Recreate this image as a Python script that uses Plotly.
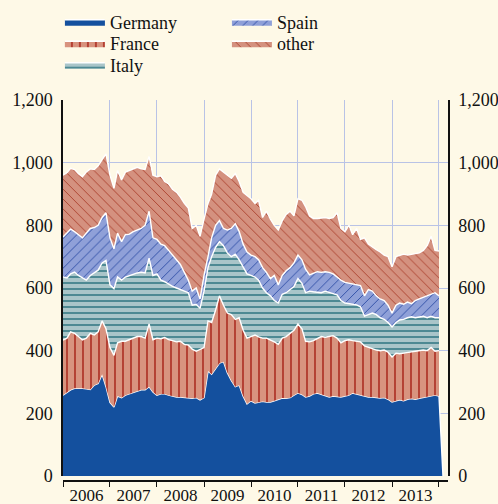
import numpy as np
import pandas as pd
import plotly.graph_objects as go

# ---- data (monthly, Jan 2006 - Jan 2014) ----
months = list(pd.date_range("2006-01-01", periods=98, freq="MS"))

germany = [258,268,275,280,281,280,278,276,290,295,325,285,235,220,255,250,258,
           262,265,270,275,275,285,268,258,262,262,258,255,252,252,250,250,
           248,250,243,250,335,325,345,360,365,330,305,285,290,255,230,240,
           233,236,238,236,236,240,245,249,248,250,258,265,260,252,255,262,265,
           260,256,252,255,253,252,255,258,265,262,258,255,252,252,250,249,250,
           245,236,240,243,240,245,247,245,248,250,252,255,258,255,
           0]

france = [176,172,185,175,164,154,162,179,160,165,170,185,175,165,170,180,172,
          173,175,175,170,165,200,167,182,176,180,177,177,176,178,170,168,
          157,148,162,160,160,165,185,215,180,190,210,215,215,210,210,205,
          217,208,202,204,199,188,175,191,197,205,207,220,210,178,173,170,175,
          185,187,193,193,187,173,177,177,167,168,170,160,158,153,152,151,152,
          150,144,152,147,152,150,149,153,152,152,148,155,140,145]

italy = [201,192,185,196,195,198,185,185,200,197,185,218,200,213,210,195,205,
         205,205,203,205,208,210,205,205,187,178,177,173,172,165,168,167,
         140,150,130,180,170,210,200,173,190,192,185,208,185,200,205,195,
         185,181,160,145,140,132,132,140,140,140,140,145,145,155,162,156,147,
         140,147,140,134,138,135,120,115,118,116,112,95,105,115,113,105,98,
         95,96,98,108,108,110,112,107,108,108,105,100,107,105]

spain = [128,143,143,129,130,128,150,150,143,143,145,152,150,127,140,123,135,
         132,135,137,140,152,150,120,110,115,115,108,100,90,80,62,40,
         45,52,30,50,35,60,70,67,55,73,90,97,90,75,70,65,
         65,65,65,65,55,80,58,60,70,70,75,75,75,75,52,60,65,
         65,62,65,63,57,65,66,65,62,64,68,65,80,70,60,60,60,
         55,44,55,54,48,50,42,55,57,60,70,70,80,70]

other = [197,193,194,198,195,195,195,190,185,190,185,188,200,193,200,197,200,
         203,202,200,190,178,175,200,200,218,205,212,210,215,215,220,230,
         200,200,200,180,170,140,160,165,180,173,160,160,160,165,180,180,
         170,190,160,195,190,160,175,175,180,180,150,180,190,200,188,174,170,
         173,173,172,180,205,165,162,185,158,180,147,185,145,140,147,150,145,
         155,148,155,153,160,150,158,150,147,150,160,185,135,143]

series_names = ["Germany", "France", "Italy", "Spain", "other"]
y_ticks = [0, 200, 400, 600, 800, 1000, 1200]

# ---- styles ----
BG = "#FEF9E7"
GRID = "#B9C3E6"
FONT = "Liberation Serif"

n = len(france)
x_main = months[:n]
base = np.array(germany[:n], dtype=float)
cum_fr = base + np.array(france)
cum_it = cum_fr + np.array(italy)
cum_sp = cum_it + np.array(spain)
cum_ot = cum_sp + np.array(other)

fig = go.Figure()
line_w = dict(color="white", width=1.4)

# legend rows: row 1 -> Germany, Spain ; row 2 -> France, other ; row 3 -> Italy
fig.add_trace(go.Scatter(
    x=months, y=germany, name=series_names[0], mode="lines",
    line=line_w, fill="tozeroy", fillcolor="#14509E", legend="legend",
    legendrank=1, hoverinfo="skip"))

fig.add_trace(go.Scatter(
    x=x_main, y=base, mode="lines", line=dict(width=0, color="rgba(0,0,0,0)"),
    showlegend=False, hoverinfo="skip"))

pattern_specs = [
    (series_names[1], cum_fr, dict(shape="|", bgcolor="#D8937F", fgcolor="#B0362A", size=8, solidity=0.22), "legend2", 1),
    (series_names[2], cum_it, dict(shape="-", bgcolor="#A9C5C9", fgcolor="#4D8993", size=6, solidity=0.33), "legend3", 1),
    (series_names[3], cum_sp, dict(shape="/", bgcolor="#8FA0D8", fgcolor="#3352A8", size=7, solidity=0.14), "legend", 2),
    (series_names[4], cum_ot, dict(shape="\\", bgcolor="#D4917F", fgcolor="#AE4634", size=7, solidity=0.14), "legend2", 2),
]
for name, yv, pat, leg, rank in pattern_specs:
    fig.add_trace(go.Scatter(
        x=x_main, y=yv, name=name, mode="lines", line=line_w,
        fill="tonexty", fillcolor=pat["bgcolor"],
        fillpattern=dict(fillmode="replace", **pat),
        legend=leg, legendrank=rank, hoverinfo="skip"))

# invisible trace to activate the right-hand axis
fig.add_trace(go.Scatter(x=[months[0]], y=[0], yaxis="y2", mode="lines",
                         line=dict(width=0), showlegend=False, hoverinfo="skip"))

H = 504
top, bot = 100, 23
paper_h = H - top - bot
dom0 = 5 / paper_h

axis_font = dict(family=FONT, size=18, color="#111111")
x_font = dict(family=FONT, size=17, color="#111111")

def legend_row(row_center_y):
    return dict(orientation="h", x=-0.008, xanchor="left",
                y=1 + (top - row_center_y) / paper_h, yanchor="middle",
                entrywidth=112, entrywidthmode="pixels", traceorder="normal",
                itemwidth=40,
                font=dict(family=FONT, size=18, color="#111111"),
                bgcolor="rgba(0,0,0,0)", itemclick=False, itemdoubleclick=False)

fig.update_layout(
    width=498, height=504,
    margin=dict(l=63, r=50, t=top, b=bot, autoexpand=False),
    paper_bgcolor=BG, plot_bgcolor=BG,
    font=axis_font,
    showlegend=True,
    legend=legend_row(22),
    legend2=legend_row(43.5),
    legend3=legend_row(65),
    xaxis=dict(type="date", range=["2006-01-01", "2014-03-12"],
               tick0="2006-01-01", dtick="M12", tickformat="%Y",
               ticklabelmode="period", showgrid=True, gridcolor=GRID, gridwidth=1,
               ticks="outside", ticklen=5, tickcolor="#111111", tickwidth=1.2,
               ticklabelstandoff=-6,
               showline=True, linecolor="#111111", linewidth=1.5,
               anchor="free", position=0, zeroline=False, automargin=False,
               tickfont=x_font),
    yaxis=dict(range=[0, 1200], tickvals=y_ticks, tickformat=",d",
               domain=[dom0, 1], showgrid=True, gridcolor=GRID, gridwidth=1,
               showline=True, linecolor="#111111", linewidth=1.5,
               ticks="outside", ticklen=5, tickcolor="rgba(0,0,0,0)",
               zeroline=False, automargin=False, tickfont=axis_font),
    yaxis2=dict(range=[0, 1200], tickvals=y_ticks, tickformat=",d",
                overlaying="y", side="right", anchor="x", showgrid=False,
                showline=True, linecolor="#111111", linewidth=1.5,
                ticks="outside", ticklen=5, tickcolor="rgba(0,0,0,0)",
                zeroline=False, automargin=False, tickfont=axis_font),
)

fig.write_html("out.html", config={"displayModeBar": False},
               post_script="document.body.style.margin='0';document.body.style.padding='0';")
